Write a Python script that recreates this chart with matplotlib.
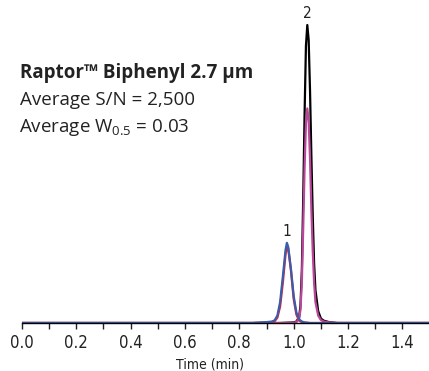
import matplotlib.pyplot as plt
from matplotlib.ticker import MultipleLocator

# chromatogram traces (time in min, response in arbitrary units)
t_peak1 = [0.0, 0.85, 0.88, 0.90, 0.92, 0.93, 0.94, 0.95, 0.96, 0.97, 0.975, 0.98, 0.99,
           1.00, 1.01, 1.02, 1.03, 1.04, 1.06, 1.5]
blue = [0.0, 0.0, 0.2, 0.3, 0.5, 0.9, 2.5, 7.0, 15.5, 24.5, 26.9, 25.5, 18.0,
        9.0, 3.5, 1.2, 0.5, 0.2, 0.0, 0.0]
red = [0.0, 0.0, 0.1, 0.1, 0.3, 0.6, 1.8, 5.5, 13.5, 23.0, 25.5, 24.8, 17.5,
       8.0, 2.8, 0.8, 0.3, 0.1, 0.0, 0.0]

t_peak2 = [0.0, 0.95, 1.00, 1.01, 1.02, 1.025, 1.03, 1.035, 1.04, 1.045, 1.05, 1.055,
           1.06, 1.065, 1.07, 1.075, 1.08, 1.09, 1.10, 1.11, 1.13, 1.16, 1.5]
black = [0.0, 0.0, 0.2, 0.5, 2.0, 6.0, 18.0, 42.0, 70.0, 93.0, 100.0, 95.0,
         78.0, 56.0, 36.0, 20.0, 11.0, 4.0, 1.5, 0.8, 0.3, 0.0, 0.0]
magenta = [0.0, 0.0, 0.1, 0.3, 1.5, 4.5, 14.0, 32.0, 52.0, 67.0, 72.0, 68.0,
           55.0, 38.0, 24.0, 13.5, 7.0, 2.5, 1.0, 0.5, 0.2, 0.0, 0.0]

peak_labels = ['1', '2']
peak_times = [0.975, 1.05]
peak_tops = [26.9, 100.0]

ticks = [0.0, 0.2, 0.4, 0.6, 0.8, 1.0, 1.2, 1.4]
tick_labels = ['0.0', '0.2', '0.4', '0.6', '0.8', '1.0', '1.2', '1.4']

txt_font = ['Open Sans', 'DejaVu Sans']
dark = '#222222'
plt.rcParams['font.family'] = ['DejaVu Sans']
plt.rcParams['font.stretch'] = 'condensed'

fig = plt.figure(figsize=(4.29, 3.71), dpi=100)
ax = fig.add_axes([21.7 / 429, 48 / 371, 408 / 429, 313 / 371])

ax.plot(t_peak2, black, color='black', lw=1.6)
ax.plot(t_peak2, magenta, color='#b8479a', lw=1.6)
ax.plot(t_peak1, red, color='#e0252e', lw=1.6)
ax.plot(t_peak1, blue, color='#3b5bab', lw=1.6)

for lab, x, y in zip(peak_labels, peak_times, peak_tops):
    ax.annotate(lab, (x, y), xytext=(0, 3), textcoords='offset points',
                ha='center', va='bottom', fontsize=11, color=dark)

ax.set_xlim(0, 1.5)
ax.set_ylim(0, 100 * 313 / 298)
for s in ['left', 'top', 'right']:
    ax.spines[s].set_visible(False)
ax.spines['bottom'].set_linewidth(1.0)
ax.set_yticks([])
ax.xaxis.set_minor_locator(MultipleLocator(0.1))
ax.set_xticks(ticks)
ax.set_xticklabels(tick_labels)
ax.tick_params(axis='x', which='both', direction='out', length=4, width=1, pad=4,
               labelsize=12, colors=dark)

fig.text(210 / 429, 1 - 364 / 371, 'Time (min)', fontsize=10, color=dark,
         ha='center', va='center')

fig.text(20 / 429, 1 - 78 / 371, 'Raptor\u2122 Biphenyl 2.7 \u00b5m', fontsize=13.5,
         fontweight='bold', family=txt_font, stretch='normal', color=dark)
fig.text(20 / 429, 1 - 105 / 371, 'Average S/N = 2,500', fontsize=13.5,
         family=txt_font, stretch='normal', color=dark)
fig.text(19 / 429, 1 - 132 / 371, 'Average W$_{\\mathregular{0.5}}$ = 0.03', fontsize=13.5,
         family=txt_font, stretch='normal', color=dark)

fig.savefig('out.png', dpi=100)
